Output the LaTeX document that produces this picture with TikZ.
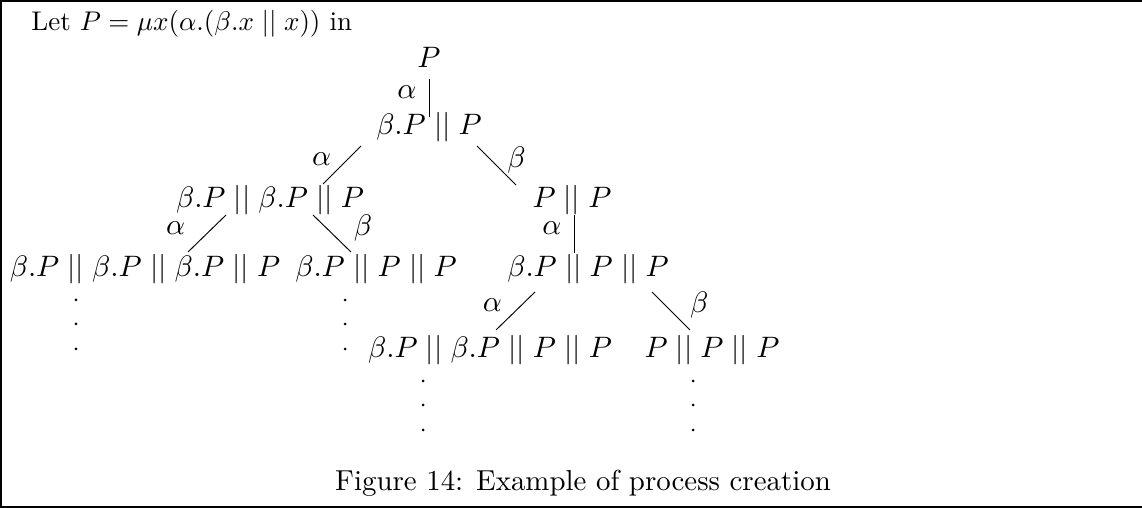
\documentclass[tikz,border=0pt]{standalone}
\usepackage{tikz}

\newcommand{\inpar}{\mid\mid}

\begin{document}
\begin{tikzpicture}[x=0.3704pt,y=-0.3704pt,line width=0.35pt]

\tikzset{proc/.style = {anchor=base, inner sep=0pt, font=\fontsize{10.7}{13}\selectfont}}
\tikzset{lbl/.style = {inner sep=0pt, pos=.35, font=\fontsize{10.7}{13}\selectfont}}
\useasboundingbox (0,0) rectangle (1142,508);
%frame
\draw[line width=0.9pt] (1.2,1.2) rectangle (1150,506.8);
\node[proc, anchor=base west, font=\normalsize] (intro) at (31,31) {Let $P=\mu x(\alpha.(\beta.x\inpar x))$ in};
%processes
\node[proc] (p0) at (429,68) {$P$};
\node[proc] (p1) at (429,135) {$\beta.P\inpar P$};
\node[proc] (p2a) at (270,208) {$\beta.P\inpar\beta.P\inpar P$};
\node[proc] (p2b) at (572,208) {$P\inpar P$};
\node[proc] (p3a) at (145,277) {$\beta.P\inpar\beta.P\inpar\beta.P\inpar P$};
\node[proc] (p3b) at (376,277) {$\beta.P\inpar P\inpar P$};
\node[proc] (p3c) at (588,277) {$\beta.P\inpar P\inpar P$};
\node[proc] (p4a) at (490,358) {$\beta.P\inpar\beta.P\inpar P\inpar P$};
\node[proc] (p4b) at (712,358) {$P\inpar P\inpar P$};
%transitions
\draw ([shift={(0,11)}]p0.base) -- ([shift={(0,-18)}]p1.base) node[lbl, left=4.5pt] {$\alpha$};
\draw ([shift={(-68,11)}]p1.base) -- ([shift={(53,-24)}]p2a.base) node[lbl, left=6pt] {$\alpha$};
\draw ([shift={(48,11)}]p1.base) -- ([shift={(-56,-23)}]p2b.base) node[lbl, right=6pt] {$\beta$};
\draw ([shift={(-44,7)}]p2a.base) -- ([shift={(43,-25)}]p3a.base) node[lbl, left=10pt] {$\alpha$};
\draw ([shift={(43,7)}]p2a.base) -- ([shift={(-25,-25)}]p3b.base) node[lbl, right=10pt] {$\beta$};
\draw ([shift={(2,7)}]p2b.base) -- ([shift={(-14,-24)}]p3c.base) node[lbl, left=4.5pt] {$\alpha$};
\draw ([shift={(-53,15)}]p3c.base) -- ([shift={(6,-28)}]p4a.base) node[lbl, left=7pt] {$\alpha$};
\draw ([shift={(64,15)}]p3c.base) -- ([shift={(-22,-28)}]p4b.base) node[lbl, right=9pt] {$\beta$};
%continuations
\foreach \n/\dx in {p3a/-69, p3b/-31, p4a/-67, p4b/-19}
  \foreach \dy in {23,47,72}
    \fill ([shift={(\dx,\dy)}]\n.base) circle (1.5);
%caption
\node[proc] (caption) at (583,490) {Figure 14: Example of process creation};

\end{tikzpicture}
\end{document}
